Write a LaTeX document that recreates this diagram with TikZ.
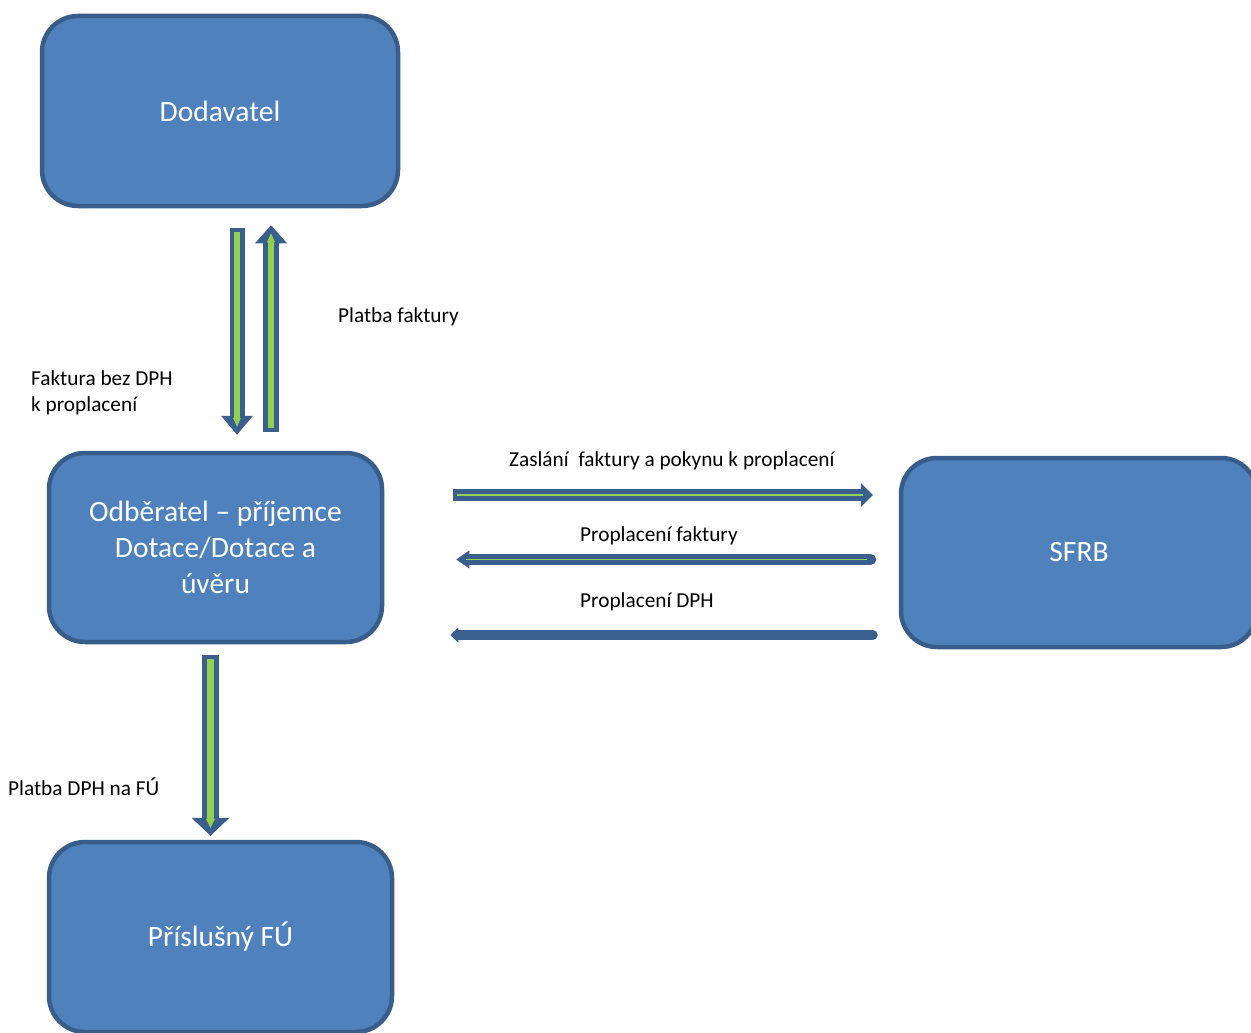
\documentclass[tikz,border=0pt]{standalone}
\usepackage{fontspec}
\setmainfont{Carlito}
\usetikzlibrary{arrows.meta,positioning,calc}
\definecolor{boxfill}{HTML}{4F81BD}
\definecolor{boxline}{HTML}{385D8A}
\definecolor{arrline}{HTML}{3A5F8E}
\definecolor{arrgreen}{HTML}{92D050}

\begin{document}
\begin{tikzpicture}[
      x=1pt,y=-1pt,
      party/.style={
          draw=boxline,
          fill=boxfill,
          line width=4.5pt,
          rounded corners=36pt,
          text=white,
          font=\fontsize{29.5}{36}\selectfont,
          align=center,
          inner sep=0pt
        },
      lbl/.style={
          font=\fontsize{21.3}{26}\selectfont,
          anchor=base west,
          inner sep=0pt,
          align=left
        },
      flow/.style={
          draw=arrline,
          line width=#1
        },
      core/.style={
          draw=arrgreen,
          line width=#1
        }
    ]
    \useasboundingbox (0,0) rectangle (1251,1033);
    \clip (0,0) rectangle (1251,1033);

    % parties
    \node[party, minimum width=356, minimum height=190] (dod) at (220,111) {Dodavatel};
    \node[party, minimum width=333, minimum height=189] (odb) at (215.5,547.5) {Odběratel – příjemce\\Dotace/Dotace a\\úvěru};
    \node[party, minimum width=356, minimum height=189] (sfrb) at (1079,552.5) {SFRB};
    \node[party, minimum width=343, minimum height=190] (fu) at (220.5,937) {Příslušný FÚ};

    % arrow ends
    \coordinate (fakS) at ($(dod.south)+(17,20)$);
    \coordinate (fakE) at ($(fakS |- odb.north)+(0,-16)$);
    \coordinate (platS) at ($(odb.north)+(55.5,-19)$);
    \coordinate (platE) at ($(platS |- dod.south)+(0,17)$);
    \coordinate (zasS) at ($(odb.east)+(69,-52.5)$);
    \coordinate (zasE) at ($(zasS -| sfrb.west)+(-26,0)$);
    \coordinate (profS) at ($(sfrb.west)+(-28,7)$);
    \coordinate (profE) at ($(profS -| odb.east)+(72,0)$);
    \coordinate (prodS) at ($(sfrb.west)+(-26,82.5)$);
    \coordinate (prodE) at ($(prodS -| odb.east)+(66,0)$);
    \coordinate (dphS) at ($(odb.south)+(-5,11)$);
    \coordinate (dphE) at ($(dphS |- fu.north)+(0,-4)$);

    % vertical flows
    \draw[flow=15pt, -{Triangle[width=32pt,length=19pt,line width=0pt]}] (fakS) -- (fakE);
    \draw[core=6pt, -{Triangle[width=8pt,length=9pt,line width=0pt]}, shorten <=4pt, shorten >=8pt] (fakS) -- (fakE);
    \draw[flow=16pt, -{Triangle[width=32pt,length=18pt,line width=0pt]}] (platS) -- (platE);
    \draw[core=6pt, -{Triangle[width=8pt,length=9pt,line width=0pt]}, shorten <=4pt, shorten >=8pt] (platS) -- (platE);
    \draw[flow=17pt, -{Triangle[width=38pt,length=18pt,line width=0pt]}] (dphS) -- (dphE);
    \draw[core=7pt, -{Triangle[width=9pt,length=9pt,line width=0pt]}, shorten <=4pt, shorten >=8pt] (dphS) -- (dphE);

    % horizontal flows
    \draw[flow=12pt, -{Triangle[width=24pt,length=12pt,line width=0pt]}] (zasS) -- (zasE);
    \draw[core=1.2pt, shorten <=4pt, shorten >=10pt] (zasS) -- (zasE);
    \draw[flow=11pt, line cap=round, -{Triangle[width=18pt,length=13pt,line width=0pt]}] (profS) -- (profE);
    \draw[core=1.2pt, shorten <=4pt, shorten >=10pt] (profS) -- (profE);
    \draw[flow=10pt, line cap=round, -{Triangle[width=15pt,length=8pt,line width=0pt]}] (prodS) -- (prodE);

    % labels
    \node[lbl] (lplat) at (338,322) {Platba faktury};
    \node[lbl] (lfak) at (31,411) {Faktura bez DPH\\k proplacení};
    \node[lbl] (lzas) at (509,466) {Zaslání~ faktury a pokynu k proplacení};
    \node[lbl] (lprof) at (580,541) {Proplacení faktury};
    \node[lbl] (lprod) at (580,607) {Proplacení DPH};
    \node[lbl] (ldph) at (8,795) {Platba DPH na FÚ};
  \end{tikzpicture}
\end{document}
